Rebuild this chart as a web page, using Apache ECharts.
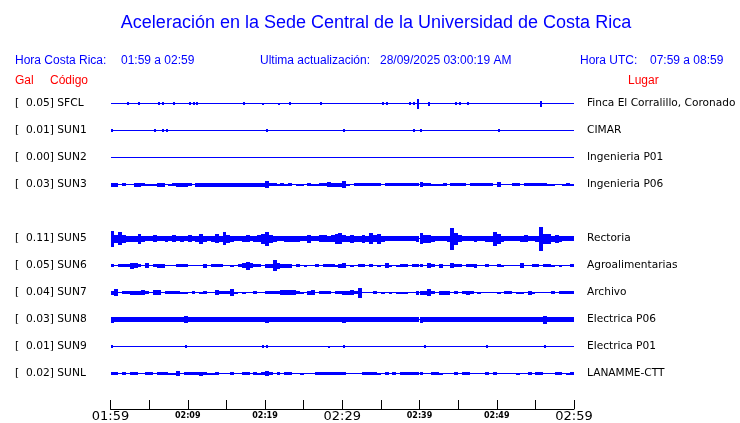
<!DOCTYPE html>
<html>
<head>
<meta charset="utf-8">
<script src="https://cdn.jsdelivr.net/npm/echarts@6/dist/echarts.min.js"></script>
<style>html,body{margin:0;padding:0;background:#fff}#c{width:740px;height:423px}</style>
</head>
<body>
<div id="c"></div>
<script>
// ---- data ----
const STEP = 0.5; // minutes per envelope sample (120 samples = 60 min)
const rows = ['SFCL','SUN1','SUN2','SUN3','','SUN5','SUN6','SUN7','SUN8','SUN9','SUNL'];
const gal = ['0.05','0.01','0.00','0.03','','0.11','0.05','0.04','0.03','0.01','0.02'];
const places = ['Finca El Corralillo, Coronado','CIMAR','Ingenieria P01','Ingenieria P06','','Rectoria','Agroalimentarias','Archivo','Electrica P06','Electrica P01','LANAMME-CTT'];
const timeLabels = ['01:59','02:09','02:19','02:29','02:39','02:49','02:59'];

// envelope half-amplitudes (relative units), one value per 0.5 min
const SFCL = [0,0,0,0,1.5,0,0,1.5,0,0, 0,0,1.5,1.5,0,0,1.5,0,0,0, 1.5,1.5,1.5,0,0.7,0,0,0,0,0, 0.7,0,0,0,1.5,0,0,0,0,1,
  0.7,0,0,1,0,0,1.5,0,0,0, 0,0,0.7,0,1.5,0,0,0,0,0, 0,0,0,0,0,0,0,0,0,0, 1.5,1.5,0,0,0,0,0,1.5,1.5,5,
  0,0,2,0,0,0,0,0,0,1.5, 1.5,0,1.5,0,0,0,0,0,0,0, 0,0,0,0,0,0,0,0,0,0, 0,3,0,0,0,0,0,0,0,0];
const SUN1 = [1.5,0,0,0,0,0,0,0,0,0, 0,1.2,0,1.5,1.2,0,0,0,0,0, 0.8,0,0,0,0,0,0,0,0,0, 0,0,0,0,0,0,0,0,0,0,
  1.5,0,0,0,0,0,0,0,0,0, 0,0,0,0,0,0,0,0,0,0, 1.5,0,0,0,0,0,0,0,0.7,0, 0,0,0,0,0,0,0,0,1.5,0,
  1.5,0,0,0,0,0,0,0,0,0, 0,0,0,0,0,0,0,0,0,0, 1.2,0,0,0,0,0,0,0,0,0, 0,0,0,0,0,0,0,0,0,0];
const SUN2 = [0,0,0,0,0,0,0,0,0,0, 0,0,0,0,0,0,0,0,0,0, 0,0,0,0,0,0,0,0,0,0, 0,0,0,0,0,0,0,0,0,0,
  0,0,0,0,0,0,0,0,0,0, 0,0,0,0,0,0,0,0,0,0, 0.7,0,0,0,0,0,0,0,0,0, 0,0,0,0,0,0,0,0,0,0,
  0,0,0,0,0,0,0,0,0,0, 0,0,0,0,0,0,0,0,0,0, 0,0,0,0,0,0,0,0,0,0, 0,0,0,0,0,0,0,0,0,0];
const SUN3 = [2,2,0,1.5,0.7,0,2,2,1.5,1, 1,1,2,2,0,1,1.5,2,2,2, 1.5,0,2,2,2,2,2,2,2,2, 2,2,2,2,2,2,2,2,2,2,
  3.5,1.5,1.5,1,1.5,1,1.5,0,1,1, 0,1.5,1,1,1.5,1.5,2.5,2,2,2, 3.5,1,0,1.5,1.5,1.5,1.5,1.5,1.5,1.5, 0,1.5,1.5,1.5,1.5,1.5,1.5,1.5,1.5,1.5,
  2.5,1.5,1.5,1,1,1,1.5,0,1.5,1.5, 1.5,1.5,0,1.5,1.5,1.5,1.5,1.5,1.5,0, 2.5,0,0.7,0,1.5,1.5,0,1.5,1.5,1.5, 1.5,1.5,1.5,1,1,0,0,1,1.5,1];
const SUN5 = [8,4,6.5,4,3,3,3,5,3,2.7, 2.7,3.5,2.7,2.7,3,2.7,3.5,2.7,3,2.7, 3.5,2.7,3,5,3,2.7,3,4.5,3,6.5, 4,3,2.7,2.7,3,3.5,2.7,3,3.5,5,
  7,4,3,2.7,2.7,3,3,3,3,2.7, 2.7,4,2.7,2.7,3.3,3.3,3,3.3,5,5.5, 3.5,3,4,3,3,4,3,5.5,3.5,5, 3,2.5,2.5,2.5,2.5,2.5,2.5,2.5,2.5,3,
  5.5,4,4,3,2.5,2.5,2.5,3,11,6, 3.5,2.5,2.5,2.5,3,2.5,2.5,3,3,7, 5,3,2.7,2.7,2.7,2.7,3,3.5,2.7,2.7, 3,12,5,5,3,4,3,2.7,2.7,2.7];
const SUN6 = [1.2,0,1.5,1.5,1.2,3,2.5,1.5,0,2.5, 0,1.2,2,2,0,0,0,1.5,1.5,1.5, 0,0,0,0,2,0,1.5,1.5,1.2,0, 0,1,0,1.5,2.5,4,2.5,1.5,1.5,0,
  2,2,5.5,3,2,2,2,0,1.5,0, 1,0,0,1.5,0,1.5,1.5,1.5,1,2, 2.5,0,1,0,1.5,1.5,0,1.5,0,1, 0,2.5,1,0,1,1.5,1.5,0,1.5,1.5,
  1.5,0,2.5,1.5,0,2,0,0,2.5,1.5, 1.5,0,1.5,1.5,2,0,0,1.5,0,0, 1.5,1,0,0,0,0,2.5,0,0,1.5, 1.5,0,1.5,1.5,1,0,1,0,0,1.5];
const SUN7 = [2,3.5,0,1.5,1.5,2,2,2,2.5,1.5, 0,2.5,2.5,0,1.5,1.5,1.5,1.5,1,1, 0,1.2,0,1,1.5,0,0,2.5,1.5,1.5, 1.5,3.5,1,0,1,0,0,1.5,0,0,
  1.5,1.5,1.5,1.2,2.5,2.5,2.5,2.5,1.5,1, 0,2,2.5,0,1.5,1.5,1.5,0,1.5,1.5, 2,2,2.5,1.5,5,0,0,0,1.5,0, 1,0,1,0,1,1,1,0,0,2,
  2,2,3.5,1.5,0,2,2,2,0,1.5, 0,1.5,2,1.5,0,1,0,0,0,0, 1,0,1.5,1.5,0,1,1,0,2,1, 0,0,0,0,1.5,0,1.5,1.5,1.5,1.5];
const SUN8 = [3,2.2,2.2,2.2,2.2,2.2,2.2,2.2,2.2,2.2, 2.2,2.2,2.2,2.2,2.2,2.2,2.2,2.5,2.2,3.5, 2.2,2.2,2.2,2.2,2.2,2.2,2.2,2.2,2.2,2.2, 2.2,2.2,2.2,2.2,2.2,2.2,2.2,2.2,2.2,2.2,
  3,2.2,2.2,2.2,2.2,2.2,2.2,2.2,2.2,2.2, 2.2,2.2,2.2,2.2,2.2,2.2,2.2,2.2,2.2,2.2, 3,2.2,2.2,2.2,2.2,2.2,2.2,2.2,2.5,2.2, 2.2,2.5,2.2,2.2,2.2,2.2,2.5,2.2,2.2,2.2,
  3,2.2,2.2,2.2,2.2,2.2,2.2,2.2,2.2,2.2, 2.2,2.2,2.2,2.2,2.2,2.2,2.2,2.5,2.2,2.2, 2.2,2.2,2.2,2.2,2.2,2.2,2.2,2.2,2.2,2.2, 2.2,2.2,4,2.2,2.2,2.2,2.2,2.2,2.2,2.2];
const SUN9 = [1.2,0,0,0,0,0,0,0,0,0, 0,0,0,0,0,0,0,0,0,1.5, 0,0,0,0,0,0,0,0,0,0, 0,0,0,0,0,0,0,0,0,1.5,
  1.5,0,0,0,0,0,0,0,0,0, 0,0,0,0,0,0,1,0,0.7,0, 1.5,0,0,0,0,0,0,0,0,0, 0,0,0,0,0,0,0,0,0,0,
  0,1.5,0,0,0,0,0,0,0,0, 0,0,0,0,0,0,0,1.2,0,0, 0,0,0,0,0,0,0,0,0,0, 0,0,1.5,0,0,0,0,0,0,0];
const SUNL = [1.5,1.5,0,1.5,0,1.5,1.5,0,0,1.5, 1.5,0,1.5,1.5,1.5,1,1,2.5,0,1.5, 1.5,1.5,1.5,2,1.5,1,1,1.5,0,0, 0,1.5,0,0,1.5,1.5,0,1.5,1,1.5,
  2.5,1.5,0,1.5,0,1.5,1.5,0,0,1, 0,0,0,1.5,1.5,1.5,1.5,1.5,1.5,1.5, 1.5,0,0,0,0,1.5,1.5,1.5,1.5,1, 0,1.2,0,1.5,0,1.5,1.5,1.5,1.5,1.5,
  1.5,0,0,1.5,1.5,1,0,0,0,1.5, 0,1.5,1.5,0,0,0,0,1.2,0,1.5, 0,0,0,0,0,1,0,0,1.5,0, 1.5,1.5,0,0,0,1.5,1.5,0,1,1.5];

const traces = {SFCL, SUN1, SUN2, SUN3, SUN5, SUN6, SUN7, SUN8, SUN9, SUNL};
const narrow = {SFCL: true, SUN1: true, SUN2: true, SUN9: true};

// ---- build series data ----
const BLUE = '#0000ff';
const baseData = [];
const traceData = [];
rows.forEach((name, r) => {
  if (!name) return;
  baseData.push([0, r, 60]);
  traces[name].forEach((a, i) => {
    if (a > 0) traceData.push([i * STEP + STEP / 2, r, a, narrow[name] ? 1 : 0]);
  });
});

const chart = echarts.init(document.getElementById('c'), null, {renderer: 'canvas'});
const sansFont = 'DejaVu Sans';

chart.setOption({
  animation: false,
  backgroundColor: '#ffffff',
  textStyle: {fontFamily: sansFont},
  grid: {left: 110.5, right: 166, top: 90, height: 297, outerBoundsMode: 'none', containLabel: false},
  xAxis: {
    type: 'value', min: 0, max: 60, interval: 5, offset: 22,
    axisLine: {show: true, onZero: false, lineStyle: {color: '#000', width: 1}},
    axisTick: {show: true, inside: true, length: 9, lineStyle: {color: '#000', width: 1}},
    splitLine: {show: false},
    axisLabel: {
      margin: 1, color: '#000', showMinLabel: true, showMaxLabel: true, hideOverlap: false,
      formatter: v => {
        if (v % 10 !== 0) return '';
        const i = v / 10;
        return i % 3 === 0 ? '{big|' + timeLabels[i] + '}' : '{small|' + timeLabels[i] + '}';
      },
      rich: {
        big: {fontSize: 13, fontFamily: sansFont, color: '#000', letterSpacing: 0.5},
        small: {fontSize: 8, fontFamily: sansFont, fontWeight: 'bold', color: '#000', padding: [2, 0, 0, 0]}
      }
    }
  },
  yAxis: [{
    type: 'category', data: rows, inverse: true, position: 'left',
    axisLine: {show: false}, axisTick: {show: false}, splitLine: {show: false},
    axisLabel: {
      align: 'left', margin: 95.5, color: '#000', fontSize: 10.7, fontFamily: sansFont, interval: 0,
      formatter: (v, idx) => v ? '[  ' + gal[idx] + '] ' + v : ''
    }
  }, {
    type: 'category', data: rows, inverse: true, position: 'right',
    axisLine: {show: false}, axisTick: {show: false}, splitLine: {show: false},
    axisLabel: {
      align: 'left', margin: 13, color: '#000', fontSize: 10.6, fontFamily: sansFont, interval: 0,
      formatter: (v, idx) => places[idx]
    }
  }],
  graphic: [
    {type: 'text', x: 376, y: 23, style: {text: 'Aceleración en la Sede Central de la Universidad de Costa Rica', fill: BLUE, font: '18px "Liberation Sans"', textAlign: 'center', textVerticalAlign: 'middle'}},
    {type: 'text', x: 15, y: 61, style: {text: 'Hora Costa Rica:', fill: BLUE, font: '12px "Liberation Sans"', textVerticalAlign: 'middle'}},
    {type: 'text', x: 121, y: 61, style: {text: '01:59 a 02:59', fill: BLUE, font: '12px "Liberation Sans"', textVerticalAlign: 'middle'}},
    {type: 'text', x: 260, y: 61, style: {text: 'Ultima actualización:', fill: BLUE, font: '12px "Liberation Sans"', textVerticalAlign: 'middle'}},
    {type: 'text', x: 380, y: 61, style: {text: '28/09/2025 03:00:19 AM', fill: BLUE, font: '12px "Liberation Sans"', textVerticalAlign: 'middle'}},
    {type: 'text', x: 580, y: 61, style: {text: 'Hora UTC:', fill: BLUE, font: '12px "Liberation Sans"', textVerticalAlign: 'middle'}},
    {type: 'text', x: 650, y: 61, style: {text: '07:59 a 08:59', fill: BLUE, font: '12px "Liberation Sans"', textVerticalAlign: 'middle'}},
    {type: 'text', x: 15, y: 81, style: {text: 'Gal', fill: '#ff0000', font: '12px "Liberation Sans"', textVerticalAlign: 'middle'}},
    {type: 'text', x: 50, y: 81, style: {text: 'Código', fill: '#ff0000', font: '12px "Liberation Sans"', textVerticalAlign: 'middle'}},
    {type: 'text', x: 628, y: 81, style: {text: 'Lugar', fill: '#ff0000', font: '12px "Liberation Sans"', textVerticalAlign: 'middle'}}
  ],
  series: [{
    type: 'custom', name: 'baseline', coordinateSystem: 'cartesian2d', xAxisIndex: 0, yAxisIndex: 0,
    encode: {x: 0, y: 1}, data: baseData, silent: true,
    renderItem: (params, api) => {
      const a = api.coord([api.value(0), api.value(1)]);
      const b = api.coord([api.value(2), api.value(1)]);
      const y = Math.floor(a[1]) + 0.5;
      return {type: 'line', shape: {x1: Math.round(a[0]), y1: y, x2: Math.round(b[0]), y2: y}, style: {stroke: BLUE, lineWidth: 1}};
    }
  }, {
    type: 'custom', name: 'traces', coordinateSystem: 'cartesian2d', xAxisIndex: 0, yAxisIndex: 0,
    encode: {x: 0, y: 1}, data: traceData, silent: true,
    renderItem: (params, api) => {
      const c = api.coord([api.value(0), api.value(1)]);
      const band = api.size([0, 1])[1];
      const k = band / 27;
      const w = api.value(3) ? 2 : api.size([STEP, 0])[0];
      const h = api.value(2) * k;
      const cy = Math.floor(c[1]) + 0.5;
      const x0 = Math.round(c[0] - w / 2);
      const x1 = Math.max(x0 + 1, Math.round(c[0] + w / 2));
      const y0 = Math.round(cy - h);
      const y1 = Math.max(y0 + 1, Math.round(cy + h));
      return {type: 'rect', shape: {x: x0, y: y0, width: x1 - x0, height: y1 - y0}, style: {fill: BLUE}};
    }
  }]
});
</script>
</body>
</html>
